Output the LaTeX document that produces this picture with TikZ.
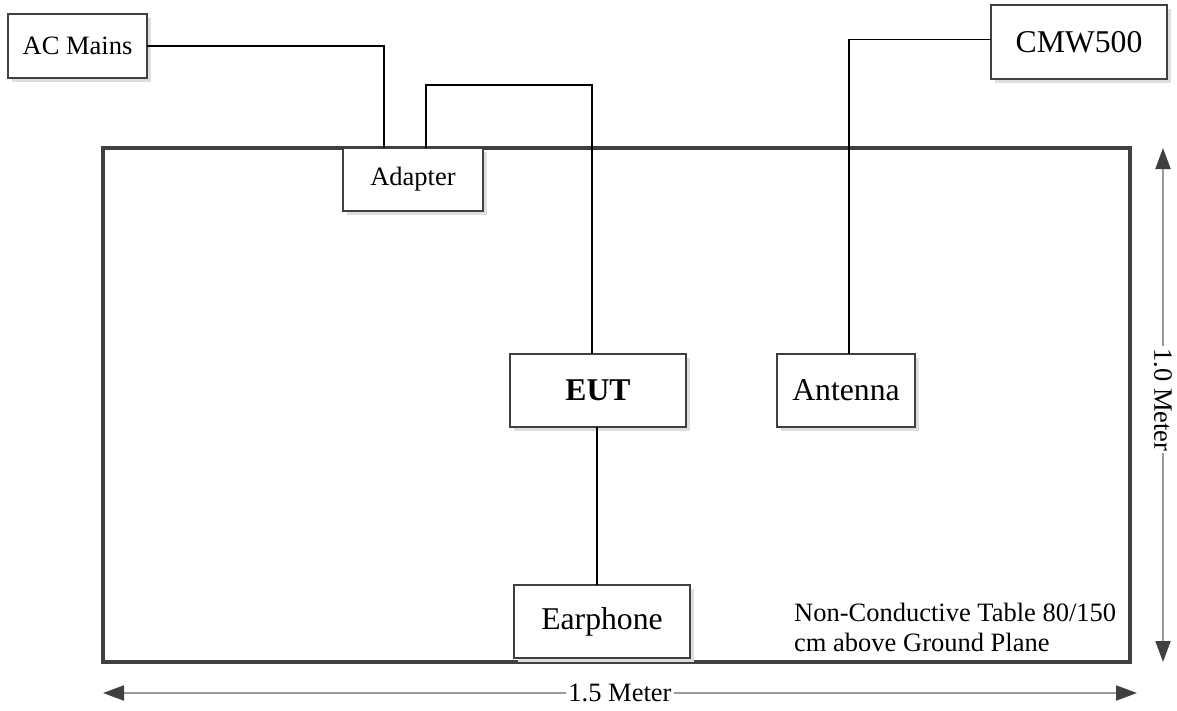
\documentclass[tikz,border=0pt]{standalone}
\usepackage{fontspec}
\setmainfont{Liberation Serif}
\usetikzlibrary{arrows.meta}
\usetikzlibrary{shadows}

\definecolor{boxgray}{HTML}{404040}
\definecolor{dimgray}{HTML}{9A9A9A}
\newcommand\smalltxt{\fontsize{26.5}{30}\selectfont}
\newcommand\bigtxt{\fontsize{31.7}{36}\selectfont}

\tikzset{
	box/.style={draw=boxgray,line width=2.5pt,fill=white,inner sep=0pt,outer sep=0pt,
		drop shadow={shadow xshift=4pt,shadow yshift=-4pt,fill=black!13,opacity=1}},
	dimline/.style={draw=dimgray,line width=2pt,
		{Triangle[length=21pt,width=15pt,fill=boxgray,color=boxgray]}-{Triangle[length=21pt,width=15pt,fill=boxgray,color=boxgray]}},
	dimlabel/.style={fill=white,inner sep=2pt,font=\smalltxt}
}

\begin{document}
\begin{tikzpicture}
	[x=1pt,y=-1pt,every node/.style={font=\bigtxt}]
	\useasboundingbox (0,0) rectangle (1177,710);
	% table
	\node[draw=boxgray,line width=4pt,inner sep=0pt,outer sep=0pt,
		minimum width=1027pt,minimum height=514pt] (tbl) at (616.5,405) {};
	\node[align=left,anchor=base west,font=\smalltxt,inner sep=0pt] (note) at (794,651.7)
		{Non-Conductive Table 80/150\\cm above Ground Plane};
	% boxes
	\node[box,font=\smalltxt,minimum width=139pt,minimum height=64pt] (ac) at (77.5,46) {AC Mains};
	\node[box,font=\smalltxt,minimum width=140pt,minimum height=63pt] (ad) at (413,179.5) {Adapter};
	\node[box,minimum width=176pt,minimum height=74pt] (cmw) at (1079,42) {CMW500};
	\node[box,minimum width=176pt,minimum height=73pt] (eut) at (598,390.5) {\textbf{EUT}};
	\node[box,minimum width=138pt,minimum height=73pt] (ant) at (846,390.5) {Antenna};
	\node[box,minimum width=176pt,minimum height=73pt] (ear) at (602,621.5) {Earphone};
	% cables
	\draw[line width=1.2pt] (ac.east) -| ([xshift=-29pt]ad.north);
	\draw[line width=1.2pt] ([xshift=13pt]ad.north) -- ++(0,-63) -| ([xshift=-6pt]eut.north);
	\draw[line width=1.2pt] ([xshift=-1pt]eut.south) -- ([xshift=-5pt]ear.north);
	\draw[line width=1.2pt] ([xshift=3pt]ant.north) |- ([yshift=2.5pt]cmw.west);
	% dimensions
	\draw[dimline] ([xshift=33pt]tbl.north east) -- ([xshift=33pt]tbl.south east)
		node[dimlabel,rotate=-90,pos=0.49] {1.0 Meter};
	\draw[dimline] ([yshift=-31pt]tbl.south west) -- ([xshift=7pt,yshift=-31pt]tbl.south east)
		node[dimlabel,pos=0.5] {1.5 Meter};
\end{tikzpicture}
\end{document}
